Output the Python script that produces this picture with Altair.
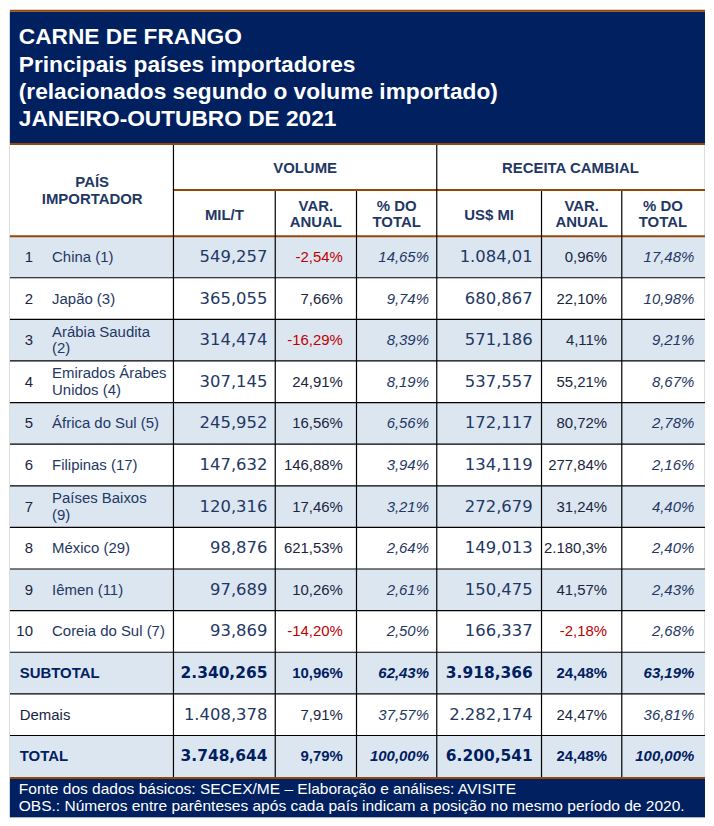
import altair as alt
import pandas as pd

# ---------------- data ----------------
title_lines = [
    "CARNE DE FRANGO",
    "Principais países importadores",
    "(relacionados segundo o volume importado)",
    "JANEIRO-OUTUBRO DE 2021",
]
ranks = ["1", "2", "3", "4", "5", "6", "7", "8", "9", "10"]
countries = [
    "China (1)", "Japão (3)", "Arábia Saudita\n(2)", "Emirados Árabes\nUnidos (4)",
    "África do Sul (5)", "Filipinas (17)", "Países Baixos\n(9)", "México (29)",
    "Iêmen (11)", "Coreia do Sul (7)",
]
vol_mil_t = ["549,257", "365,055", "314,474", "307,145", "245,952",
             "147,632", "120,316", "98,876", "97,689", "93,869"]
vol_var = ["-2,54%", "7,66%", "-16,29%", "24,91%", "16,56%",
           "146,88%", "17,46%", "621,53%", "10,26%", "-14,20%"]
vol_share = ["14,65%", "9,74%", "8,39%", "8,19%", "6,56%",
             "3,94%", "3,21%", "2,64%", "2,61%", "2,50%"]
rec_usd = ["1.084,01", "680,867", "571,186", "537,557", "172,117",
           "134,119", "272,679", "149,013", "150,475", "166,337"]
rec_var = ["0,96%", "22,10%", "4,11%", "55,21%", "80,72%",
           "277,84%", "31,24%", "2.180,3%", "41,57%", "-2,18%"]
rec_share = ["17,48%", "10,98%", "9,21%", "8,67%", "2,78%",
             "2,16%", "4,40%", "2,40%", "2,43%", "2,68%"]

summary_labels = ["SUBTOTAL", "Demais", "TOTAL"]
summary_bold = [True, False, True]
summary_vol = ["2.340,265", "1.408,378", "3.748,644"]
summary_vol_var = ["10,96%", "7,91%", "9,79%"]
summary_vol_share = ["62,43%", "37,57%", "100,00%"]
summary_rec = ["3.918,366", "2.282,174", "6.200,541"]
summary_rec_var = ["24,48%", "24,47%", "24,48%"]
summary_rec_share = ["63,19%", "36,81%", "100,00%"]

footer_lines = [
    "Fonte dos dados básicos: SECEX/ME – Elaboração e análises: AVISITE",
    "OBS.: Números entre parênteses após cada país indicam a posição no mesmo período de 2020.",
]

# ---------------- layout (pixel grid of the table) ----------------
NAVY = "#002060"
BROWN = "#974806"
BLUE = "#DCE6F1"
TXT = "#1F3864"
DARK = "#1A2540"
RED = "#C00000"

L, R = 3, 713
col_edges = [3, 170, 274, 357, 439, 546, 628, 713]
val_right = [266, 343, 431, 537, 613, 702]
row_top, row_bottom, n_rows = 233, 785, 13
rh = (row_bottom - row_top) / n_rows
row_edges = [row_top + i * rh for i in range(n_rows + 1)]
row_mid = [(row_edges[i] + row_edges[i + 1]) / 2 for i in range(n_rows)]

# rectangles
rects = [dict(x=L, x2=R, y=4, y2=138, fill=NAVY),
         dict(x=L, x2=R, y=787, y2=826, fill=NAVY)]
for i in range(n_rows):
    if i % 2 == 0:
        rects.append(dict(x=L, x2=R, y=row_edges[i], y2=row_edges[i + 1], fill=BLUE))
rect_df = pd.DataFrame(rects)

# rules
rules = []
for yy in [3, 139, 233, 786]:
    rules.append(dict(x=L, x2=R, y=yy, y2=yy, c=BROWN, w=2))
rules.append(dict(x=170, x2=R, y=186, y2=186, c=BROWN, w=2))
for i in range(1, n_rows):
    rules.append(dict(x=L, x2=R, y=row_edges[i], y2=row_edges[i], c="#000000", w=1.2))
for xx in [170, 439]:
    rules.append(dict(x=xx, x2=xx, y=140, y2=785, c="#000000", w=1.2))
for xx in [274, 357, 546, 628]:
    rules.append(dict(x=xx, x2=xx, y=187, y2=785, c="#000000", w=1.2))
rule_df = pd.DataFrame(rules)

# texts
texts = []
def add(x, y, t, g, c=TXT):
    texts.append(dict(x=x, y=y, text=t, g=g, c=c))

for k, t in enumerate(title_lines):
    add(12, 30 + k * 28, t, "title", "#FFFFFF")
for k, t in enumerate(footer_lines):
    add(12, 797 + k * 17.5, t, "foot", "#FFFFFF")

hdr = [("PAÍS", 87, 178), ("IMPORTADOR", 87, 195.5),
       ("VOLUME", 304.5, 163), ("RECEITA CAMBIAL", 575.5, 163),
       ("MIL/T", 222, 211), ("VAR.", 315.5, 202), ("ANUAL", 315.5, 218.5),
       ("% DO", 398, 202), ("TOTAL", 398, 218.5), ("US$ MI", 492.5, 211),
       ("VAR.", 587, 202), ("ANUAL", 587, 218.5), ("% DO", 670, 202), ("TOTAL", 670, 218.5)]
for t, x, y in hdr:
    add(x, y, t, "hdr")

def col(v):
    return RED if v.startswith("-") else DARK

for i in range(10):
    y = row_mid[i]
    add(26.5, y, ranks[i], "rank", DARK)
    parts = countries[i].split("\n")
    for k, p in enumerate(parts):
        add(46, y + (k - (len(parts) - 1) / 2) * 17, p, "name")
    add(val_right[0], y, vol_mil_t[i], "num")
    add(val_right[1], y, vol_var[i], "pct", col(vol_var[i]))
    add(val_right[2], y, vol_share[i], "share")
    add(val_right[3], y, rec_usd[i], "num")
    add(val_right[4], y, rec_var[i], "pct", col(rec_var[i]))
    add(val_right[5], y, rec_share[i], "share")

for j in range(3):
    y = row_mid[10 + j]
    b = summary_bold[j]
    add(13, y, summary_labels[j], "lblb" if b else "lbl", NAVY if b else DARK)
    add(val_right[0], y, summary_vol[j], "numb" if b else "num", NAVY if b else TXT)
    add(val_right[1], y, summary_vol_var[j], "pctb" if b else "pct", NAVY if b else DARK)
    add(val_right[2], y, summary_vol_share[j], "shareb" if b else "share", NAVY if b else TXT)
    add(val_right[3], y, summary_rec[j], "numb" if b else "num", NAVY if b else TXT)
    add(val_right[4], y, summary_rec_var[j], "pctb" if b else "pct", NAVY if b else DARK)
    add(val_right[5], y, summary_rec_share[j], "shareb" if b else "share", NAVY if b else TXT)

text_df = pd.DataFrame(texts)

# ---------------- chart ----------------
W, H = 698, 810
xs = alt.Scale(domain=[2, 712], nice=False, zero=False)
ys = alt.Scale(domain=[3, 826], nice=False, zero=False, reverse=True)
X = lambda f="x": alt.X(f"{f}:Q", scale=xs, axis=None)
Y = lambda f="y": alt.Y(f"{f}:Q", scale=ys, axis=None)

rect_layer = alt.Chart(rect_df).mark_rect().encode(
    x=X(), x2="x2:Q", y=Y(), y2="y2:Q",
    color=alt.Color("fill:N", scale=None))

rule_layer = alt.Chart(rule_df).mark_rule().encode(
    x=X(), x2="x2:Q", y=Y(), y2="y2:Q",
    color=alt.Color("c:N", scale=None),
    size=alt.Size("w:Q", scale=None))

ARIAL = "Liberation Sans, Arial"
DEJ = "DejaVu Sans"
styles = {
    "title": dict(font=ARIAL, fontSize=22.8, fontWeight="bold", align="left"),
    "foot": dict(font=ARIAL, fontSize=15.6, align="left"),
    "hdr": dict(font=ARIAL, fontSize=15, fontWeight="bold", align="center"),
    "rank": dict(font=ARIAL, fontSize=15, align="right"),
    "name": dict(font=ARIAL, fontSize=15, align="left"),
    "num": dict(font=DEJ, fontSize=16.5, align="right"),
    "numb": dict(font=DEJ, fontSize=15.5, fontWeight="bold", align="right"),
    "pct": dict(font=ARIAL, fontSize=15, align="right"),
    "pctb": dict(font=ARIAL, fontSize=15, fontWeight="bold", align="right"),
    "share": dict(font=ARIAL, fontSize=15, fontStyle="italic", align="right"),
    "shareb": dict(font=ARIAL, fontSize=15, fontStyle="italic", fontWeight="bold", align="right"),
    "lbl": dict(font=ARIAL, fontSize=15, align="left"),
    "lblb": dict(font=ARIAL, fontSize=15, fontWeight="bold", align="left"),
}

text_layers = []
for g, props in styles.items():
    sub = text_df[text_df.g == g]
    if len(sub) == 0:
        continue
    text_layers.append(
        alt.Chart(sub).mark_text(baseline="middle", **props).encode(
            x=X(), y=Y(), text="text:N",
            color=alt.Color("c:N", scale=None)))

chart = alt.layer(rect_layer, rule_layer, *text_layers).properties(
    width=W, height=H, padding=0
).configure_view(stroke=None).configure(background="#FFFFFF")

chart.save("out.html", embed_options={"renderer": "svg", "actions": False})
